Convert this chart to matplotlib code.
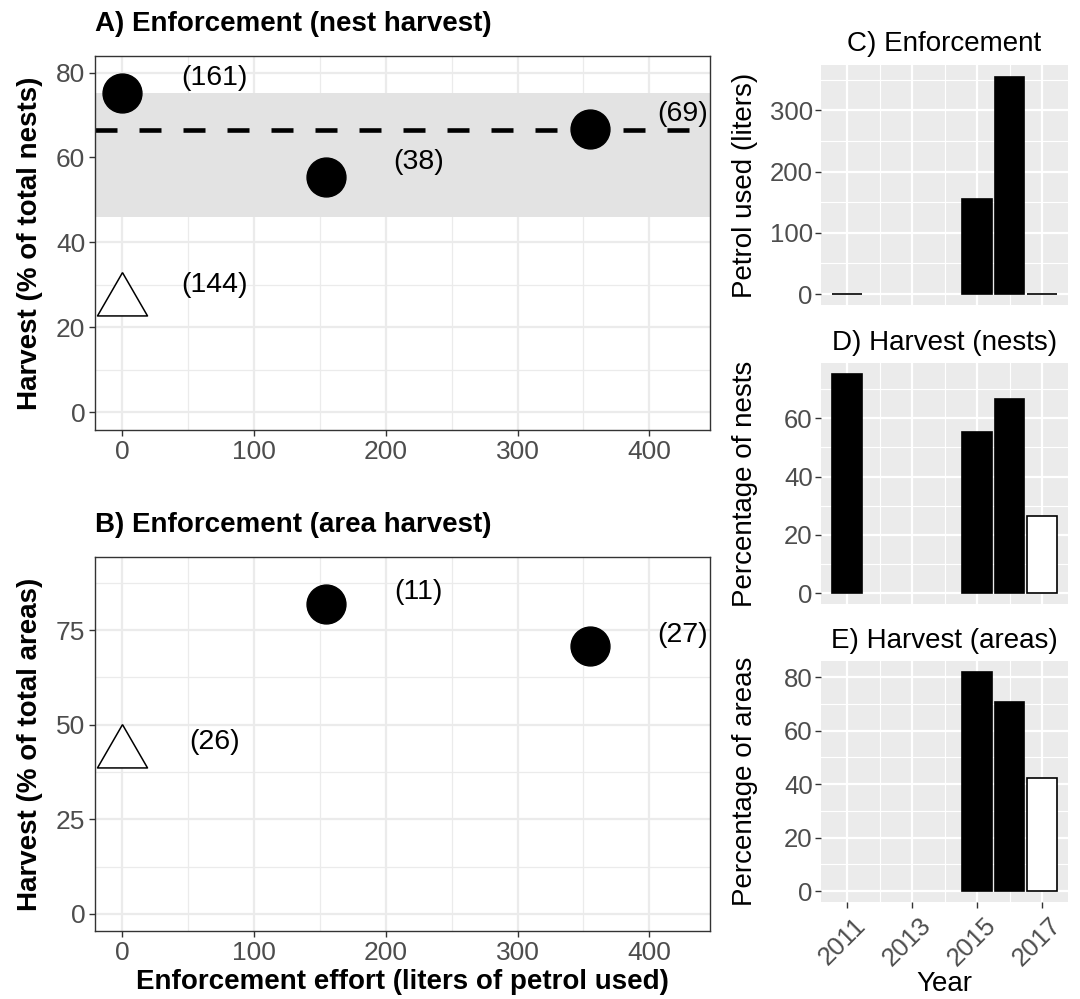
import matplotlib
matplotlib.use("Agg")
import matplotlib.pyplot as plt
import matplotlib.transforms as mtrans
import numpy as np

plt.rcParams['font.family'] = ['Liberation Sans', 'DejaVu Sans']

# ---------------- data ----------------
years = [2011, 2015, 2016, 2017]
petrol = [0, 155, 355, 0]
nests_pct = [75.2, 55.4, 66.7, 26.3]
areas_years = [2015, 2016, 2017]
areas_pct = [81.9, 70.7, 42.4]
fill_c = ['black', 'black', 'black', 'white']
fill_e = ['black', 'black', 'white']

# panel A (nest harvest vs enforcement)
a_effort = [0, 155, 355]
a_harvest = [75.2, 55.4, 66.7]
a_n = ['(161)', '(38)', '(69)']
a_ctrl = 26.3
a_ctrl_n = '(144)'
a_mean = 66.5
a_band = (46.0, 75.3)

# panel B (area harvest vs enforcement)
b_effort = [155, 355]
b_harvest = [81.9, 70.7]
b_n = ['(11)', '(27)']
b_ctrl = 42.4
b_ctrl_n = '(26)'

W, H = 1080, 999
fig = plt.figure(figsize=(W / 100, H / 100), dpi=100)


def ax_px(l, t, r, b):
    return fig.add_axes([l / W, 1 - b / H, (r - l) / W, (b - t) / H])


tri = [(0, 1), (-0.866, -0.5), (0.866, -0.5), (0, 1)]
TICKC = '#4D4D4D'
LINEC = '#333333'


def style_bw(ax, yt, ymin):
    ax.set_facecolor('white')
    for s in ax.spines.values():
        s.set_color(LINEC)
        s.set_linewidth(1.0)
    ax.set_xticks([0, 100, 200, 300, 400])
    ax.set_xticks([50, 150, 250, 350], minor=True)
    ax.set_yticks(yt)
    ax.set_yticks(ymin, minor=True)
    ax.grid(True, which='major', color='#EBEBEB', linewidth=1.6)
    ax.grid(True, which='minor', color='#EBEBEB', linewidth=0.9)
    ax.set_axisbelow(True)
    ax.tick_params(which='major', length=4, width=1.0, color=LINEC,
                   labelsize=19, labelcolor=TICKC, pad=3)
    ax.tick_params(which='minor', length=0)


def nudge(x):
    return x + 70


# ---------- Panel A ----------
axA = ax_px(95, 56, 710, 430)
style_bw(axA, [0, 20, 40, 60, 80], [10, 30, 50, 70])
axA.set_xlim(-20.5, 446)
axA.set_ylim(-4.2, 83.9)
axA.axhspan(a_band[0], a_band[1], color='#E3E3E3', zorder=1, lw=0)
axA.plot([-20.5, 432], [a_mean, a_mean], color='black', lw=3.3,
         linestyle=(0, (4.8, 4.8)), zorder=2)
axA.plot(a_effort, a_harvest, 'o', color='black', ms=28, zorder=3)
axA.plot([0], [a_ctrl], marker=tri, ms=41.6, mfc='white', mec='black',
         mew=1.1, ls='none', zorder=3)
for x, y, t in zip(a_effort, a_harvest, a_n):
    axA.text(nudge(x), y + 3.6, t, fontsize=20.5, ha='center', va='center', zorder=4)
axA.text(nudge(0), a_ctrl + 3.6, a_ctrl_n, fontsize=20.5, ha='center', va='center', zorder=4)
axA.set_ylabel('Harvest (% of total nests)', fontsize=20, fontweight='bold', labelpad=8)
axA.set_title('A) Enforcement (nest harvest)', fontsize=20, fontweight='bold',
              loc='left', pad=18)

# ---------- Panel B ----------
axB = ax_px(95, 557, 710, 931)
style_bw(axB, [0, 25, 50, 75], [12.5, 37.5, 62.5, 87.5])
axB.set_xlim(-20.5, 446)
axB.set_ylim(-4.5, 94.3)
axB.plot(b_effort, b_harvest, 'o', color='black', ms=28, zorder=3)
axB.plot([0], [b_ctrl], marker=tri, ms=41.6, mfc='white', mec='black',
         mew=1.1, ls='none', zorder=3)
for x, y, t in zip(b_effort, b_harvest, b_n):
    axB.text(nudge(x), y + 3.1, t, fontsize=20.5, ha='center', va='center', zorder=4)
axB.text(nudge(0), b_ctrl + 3.1, b_ctrl_n, fontsize=20.5, ha='center', va='center', zorder=4)
axB.set_ylabel('Harvest (% of total areas)', fontsize=20, fontweight='bold', labelpad=8)
axB.set_xlabel('Enforcement effort (liters of petrol used)', fontsize=20,
               fontweight='bold', labelpad=3)
axB.set_title('B) Enforcement (area harvest)', fontsize=20, fontweight='bold',
              loc='left', pad=18)


# ---------- Right panels ----------
def style_grey(ax, yt, ymin, show_x):
    ax.set_facecolor('#EBEBEB')
    for s in ax.spines.values():
        s.set_visible(False)
    ax.set_xlim(2010.2, 2017.8)
    ax.set_xticks([2011, 2013, 2015, 2017])
    ax.set_xticks([2012, 2014, 2016], minor=True)
    ax.set_yticks(yt)
    ax.set_yticks(ymin, minor=True)
    ax.grid(True, which='major', color='white', linewidth=1.6)
    ax.grid(True, which='minor', color='white', linewidth=0.8)
    ax.set_axisbelow(True)
    ax.tick_params(which='major', length=4, width=1.0, color=LINEC,
                   labelsize=18.5, labelcolor=TICKC, pad=2)
    ax.tick_params(which='minor', length=0)
    if not show_x:
        ax.tick_params(axis='x', which='both', length=0, labelbottom=False)


axC = ax_px(821, 65, 1068, 305)
style_grey(axC, [0, 100, 200, 300], [50, 150, 250, 350], False)
axC.set_ylim(-17.8, 373.8)
axC.bar(years, petrol, width=0.9, color=fill_c, edgecolor='black', linewidth=1.2)
axC.set_ylabel('Petrol used (liters)', fontsize=20, labelpad=6)
axC.set_title('C) Enforcement', fontsize=20, pad=10)

axD = ax_px(821, 363, 1068, 604)
style_grey(axD, [0, 20, 40, 60], [10, 30, 50, 70], False)
axD.set_ylim(-3.76, 78.96)
axD.bar(years, nests_pct, width=0.9, color=fill_c, edgecolor='black', linewidth=1.2)
axD.set_ylabel('Percentage of nests', fontsize=20, labelpad=6)
axD.set_title('D) Harvest (nests)', fontsize=20, pad=9)

axE = ax_px(821, 661, 1068, 902)
style_grey(axE, [0, 20, 40, 60, 80], [10, 30, 50, 70], True)
axE.set_ylim(-4.1, 86.0)
axE.bar(areas_years, areas_pct, width=0.9, color=fill_e, edgecolor='black', linewidth=1.2)
axE.set_ylabel('Percentage of areas', fontsize=20, labelpad=6)
axE.set_title('E) Harvest (areas)', fontsize=20, pad=9)
axE.set_xlabel('Year', fontsize=20, labelpad=0)
off = mtrans.ScaledTranslation(7 / 100, -3 / 100, fig.dpi_scale_trans)
for lab in axE.get_xticklabels():
    lab.set_rotation(45)
    lab.set_ha('right')
    lab.set_va('top')
    lab.set_rotation_mode('anchor')
    lab.set_transform(lab.get_transform() + off)

# align y labels
for ax in (axC, axD, axE):
    ax.yaxis.set_label_coords(-0.255, 0.5)
for ax in (axA, axB):
    ax.yaxis.set_label_coords(-0.085, 0.5)

fig.savefig('out.png', dpi=100)
